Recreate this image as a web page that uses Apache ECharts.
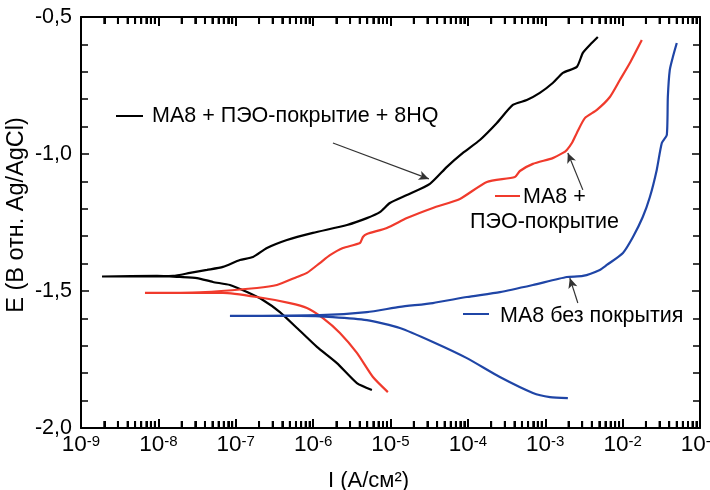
<!DOCTYPE html>
<html>
<head>
<meta charset="utf-8">
<script src="https://cdn.jsdelivr.net/npm/echarts@6/dist/echarts.min.js"></script>
<style>
html,body{margin:0;padding:0;background:#fff;}
#main{width:710px;height:490px;}
</style>
</head>
<body>
<div id="main"></div>
<script>
// ---- Data (I in A/cm², E in V vs Ag/AgCl) ----
// МА8 + ПЭО-покрытие + 8HQ (cathodic end -> corrosion point -> anodic end)
const blackI = [5.75e-6,3.68e-6,2.03e-6,1.12e-6,6.18e-7,3.72e-7,2.24e-7,1.40e-7,8.41e-8,5.07e-8,3.16e-8,1.90e-8,9.6e-9,1.87e-9,
  1.55e-8,2.56e-8,4.25e-8,6.84e-8,1.13e-7,1.67e-7,2.53e-7,4.58e-7,9.93e-7,2.74e-6,4.95e-6,7.29e-6,9.82e-6,1.63e-5,3.23e-5,
  5.36e-5,8.62e-5,1.43e-4,2.37e-4,3.81e-4,5.78e-4,8.51e-4,1.25e-3,1.69e-3,2.56e-3,3.06e-3,3.77e-3,4.78e-3];
const blackE = [-1.861,-1.836,-1.763,-1.704,-1.635,-1.577,-1.533,-1.504,-1.478,-1.467,-1.453,-1.449,-1.445,-1.447,
  -1.445,-1.434,-1.423,-1.412,-1.387,-1.376,-1.343,-1.314,-1.288,-1.259,-1.234,-1.212,-1.179,-1.150,-1.109,
  -1.047,-0.996,-0.949,-0.887,-0.821,-0.803,-0.777,-0.741,-0.704,-0.682,-0.631,-0.602,-0.573];

// МА8 + ПЭО-покрытие
const redI = [9.25e-6,5.93e-6,3.68e-6,2.22e-6,1.34e-6,8.32e-7,5.01e-7,1.88e-7,6.84e-8,6.71e-9,
  3.44e-8,1.88e-7,3.40e-7,6.18e-7,8.32e-7,1.22e-6,1.65e-6,2.43e-6,4.03e-6,4.40e-6,4.95e-6,8.97e-6,1.63e-5,3.53e-5,
  7.89e-5,1.76e-4,4.05e-4,4.70e-4,6.92e-4,1.25e-3,1.69e-3,1.90e-3,2.21e-3,2.56e-3,3.25e-3,4.65e-3,6.84e-3,9.21e-3,1.24e-2,1.77e-2];
const redE = [-1.869,-1.814,-1.726,-1.653,-1.599,-1.562,-1.544,-1.522,-1.507,-1.507,
  -1.505,-1.489,-1.478,-1.449,-1.434,-1.398,-1.369,-1.343,-1.325,-1.303,-1.292,-1.270,-1.234,-1.197,
  -1.164,-1.102,-1.084,-1.062,-1.036,-1.015,-0.996,-0.985,-0.960,-0.923,-0.869,-0.839,-0.792,-0.730,-0.668,-0.584];

// МА8 без покрытия
const blueI = [1.96e-3,1.15e-3,6.92e-4,2.59e-4,9.71e-5,3.53e-5,1.32e-5,4.95e-6,1.80e-6,6.75e-7,8.41e-8,
  1.22e-6,4.95e-6,1.32e-5,3.53e-5,9.71e-5,2.59e-4,6.92e-4,1.90e-3,3.06e-3,5.07e-3,6.25e-3,1.01e-2,1.36e-2,
  1.82e-2,2.25e-2,2.76e-2,3.21e-2,3.72e-2,3.84e-2,4.07e-2,4.46e-2,5.01e-2];
const blueE = [-1.891,-1.887,-1.872,-1.814,-1.745,-1.686,-1.635,-1.606,-1.595,-1.591,-1.591,
  -1.588,-1.577,-1.558,-1.544,-1.522,-1.504,-1.478,-1.449,-1.445,-1.423,-1.405,-1.361,-1.303,
  -1.230,-1.157,-1.058,-0.960,-0.931,-0.792,-0.693,-0.646,-0.595];

// Axis ticks
const xTickExponents = ['-9','-8','-7','-6','-5','-4','-3','-2','-1'];
const yTicks = [-2.0, -1.5, -1.0, -0.5];
const yTickLabels = ['-2,0', '-1,5', '-1,0', '-0,5'];
const minorMultipliers = [2, 3, 4, 5, 6, 7, 8, 9];

// Series names / annotation texts
const names = ['МА8 + ПЭО-покрытие + 8HQ', 'МА8 + ПЭО-покрытие', 'МА8 без покрытия'];
const colors = ['#000000', '#f03a2c', '#1f45a6'];

// Arrow annotations (data coordinates: log10 I, E)
const arrowBlack = [[-5.744, -0.960], [-4.504, -1.091]];
const arrowRed = [[-2.514, -1.131], [-2.708, -0.996]];
const arrowBlue = [[-2.579, -1.544], [-2.682, -1.453]];

// ---- build ----
const toPts = (I, E) => I.map((v, i) => [Math.log10(v), E[i]]);
const minorLog = [];
for (let n = -9; n < -1; n++) {
  for (let j = 0; j < minorMultipliers.length; j++) minorLog.push(n + Math.log10(minorMultipliers[j]));
}
const majorLog = [-9, -8, -7, -6, -5, -4, -3, -2, -1];

const FONT = 'Liberation Sans, Arial, sans-serif';
const chart = echarts.init(document.getElementById('main'));

function xAxisCfg(pos, extra) {
  return Object.assign({
    type: 'value', min: -9, max: -1, interval: 1, position: pos, gridIndex: 0,
    axisLine: {show: true, onZero: false, lineStyle: {color: '#000', width: 2}},
    axisTick: {show: true, inside: true, length: 9, customValues: majorLog, lineStyle: {color: '#000', width: 2}},
    axisLabel: {show: false},
    splitLine: {show: false}
  }, extra || {});
}
function xMinorAxisCfg(pos) {
  return {
    type: 'value', min: -9, max: -1, interval: 1, position: pos, gridIndex: 0,
    axisLine: {show: false, onZero: false},
    axisTick: {show: true, inside: true, length: 7, customValues: minorLog, lineStyle: {color: '#000', width: 2}},
    axisLabel: {show: false},
    splitLine: {show: false}
  };
}
function yAxisCfg(pos, extra) {
  return Object.assign({
    type: 'value', min: -2.0, max: -0.5, interval: 0.5, position: pos,
    axisLine: {show: true, onZero: false, lineStyle: {color: '#000', width: 2}},
    axisTick: {show: true, inside: true, length: 8, lineStyle: {color: '#000', width: 1.5}},
    minorTick: {show: true, splitNumber: 5, length: 7, lineStyle: {color: '#000', width: 1.5}},
    axisLabel: {show: false},
    splitLine: {show: false}
  }, extra || {});
}

function arrowLine(seg) {
  return {
    silent: true, symbol: ['none', 'arrow'], symbolSize: [7, 10],
    lineStyle: {color: '#333', width: 1.2, type: 'solid'},
    label: {show: false},
    data: [[{coord: seg[0]}, {coord: seg[1]}]]
  };
}

const annotations = [
  {type: 'text', x: 16.5, y: 215, rotation: Math.PI / 2,
   style: {text: 'E (В отн. Ag/AgCl)', fontSize: 23.5, fontFamily: FONT, fill: '#000', align: 'center', verticalAlign: 'middle'}},
  {type: 'line', shape: {x1: 116, y1: 116, x2: 143, y2: 116}, style: {stroke: colors[0], lineWidth: 2}},
  {type: 'text', x: 152, y: 116.5, style: {text: names[0], fontSize: 21.5, fontFamily: FONT, fill: '#000', align: 'left', verticalAlign: 'middle'}},
  {type: 'line', shape: {x1: 495, y1: 196, x2: 520, y2: 196}, style: {stroke: colors[1], lineWidth: 2}},
  {type: 'text', x: 523, y: 197, style: {text: 'МА8 +', fontSize: 21.5, fontFamily: FONT, fill: '#000', align: 'left', verticalAlign: 'middle'}},
  {type: 'text', x: 470, y: 222.5, style: {text: 'ПЭО-покрытие', fontSize: 21.5, fontFamily: FONT, fill: '#000', align: 'left', verticalAlign: 'middle'}},
  {type: 'line', shape: {x1: 463, y1: 314, x2: 489, y2: 314}, style: {stroke: colors[2], lineWidth: 2}},
  {type: 'text', x: 500, y: 316, style: {text: names[2], fontSize: 21.5, fontFamily: FONT, fill: '#000', align: 'left', verticalAlign: 'middle'}}
];

const option = {
  animation: false,
  backgroundColor: '#fff',
  grid: {left: 81, right: 10, top: 17, bottom: 62, outerBoundsMode: 'none'},
  xAxis: [
    xAxisCfg('bottom', {
      name: 'I (A/см²)', nameLocation: 'middle', nameGap: 42,
      nameTextStyle: {color: '#000', fontSize: 22, fontFamily: FONT, padding: [0, 44, 0, 0]},
      axisLabel: {
        show: true, margin: 6.5, color: '#000', fontFamily: FONT, hideOverlap: false,
        formatter: v => '{b|10}{s|' + xTickExponents[Math.round(v) + 9] + '}',
        rich: {
          b: {fontSize: 22.5, fontFamily: FONT, color: '#000', lineHeight: 22, verticalAlign: 'bottom', padding: [8, 0, 0, 0]},
          s: {fontSize: 15, fontFamily: FONT, color: '#000', lineHeight: 15, verticalAlign: 'top'}
        }
      }
    }),
    xAxisCfg('top'),
    xMinorAxisCfg('bottom'),
    xMinorAxisCfg('top')
  ],
  yAxis: [
    yAxisCfg('left', {
      axisLabel: {
        show: true, margin: 9, color: '#000', fontSize: 21.5, fontFamily: FONT,
        formatter: v => { const i = yTicks.findIndex(t => Math.abs(t - v) < 1e-6); return i >= 0 ? yTickLabels[i] : ''; }
      }
    }),
    yAxisCfg('right')
  ],
  graphic: annotations,
  series: [
    {name: names[0], type: 'line', data: toPts(blackI, blackE), showSymbol: false, symbol: 'none', smooth: 0.2,
     lineStyle: {color: colors[0], width: 2.2}, itemStyle: {color: colors[0]}, markLine: arrowLine(arrowBlack)},
    {name: names[1], type: 'line', data: toPts(redI, redE), showSymbol: false, symbol: 'none', smooth: 0.2,
     lineStyle: {color: colors[1], width: 2.2}, itemStyle: {color: colors[1]}, markLine: arrowLine(arrowRed)},
    {name: names[2], type: 'line', data: toPts(blueI, blueE), showSymbol: false, symbol: 'none', smooth: 0.2,
     lineStyle: {color: colors[2], width: 2.2}, itemStyle: {color: colors[2]}, markLine: arrowLine(arrowBlue)}
  ]
};
chart.setOption(option);

// Fallback: minor log ticks as graphic lines placed through the axis scale
const tickEls = [];
minorLog.forEach(lx => {
  const pb = chart.convertToPixel({xAxisIndex: 0, yAxisIndex: 0}, [lx, -2.0]);
  const pt = chart.convertToPixel({xAxisIndex: 0, yAxisIndex: 0}, [lx, -0.5]);
  if (pb && pt && isFinite(pb[0]) && isFinite(pb[1]) && isFinite(pt[1])) {
    tickEls.push({type: 'line', z: 100, shape: {x1: pb[0], y1: pb[1] - 1, x2: pb[0], y2: pb[1] - 7}, style: {stroke: '#000', lineWidth: 2}});
    tickEls.push({type: 'line', z: 100, shape: {x1: pt[0], y1: pt[1] + 1, x2: pt[0], y2: pt[1] + 7}, style: {stroke: '#000', lineWidth: 2}});
  }
});
chart.setOption({graphic: annotations.concat(tickEls)});
</script>
</body>
</html>
